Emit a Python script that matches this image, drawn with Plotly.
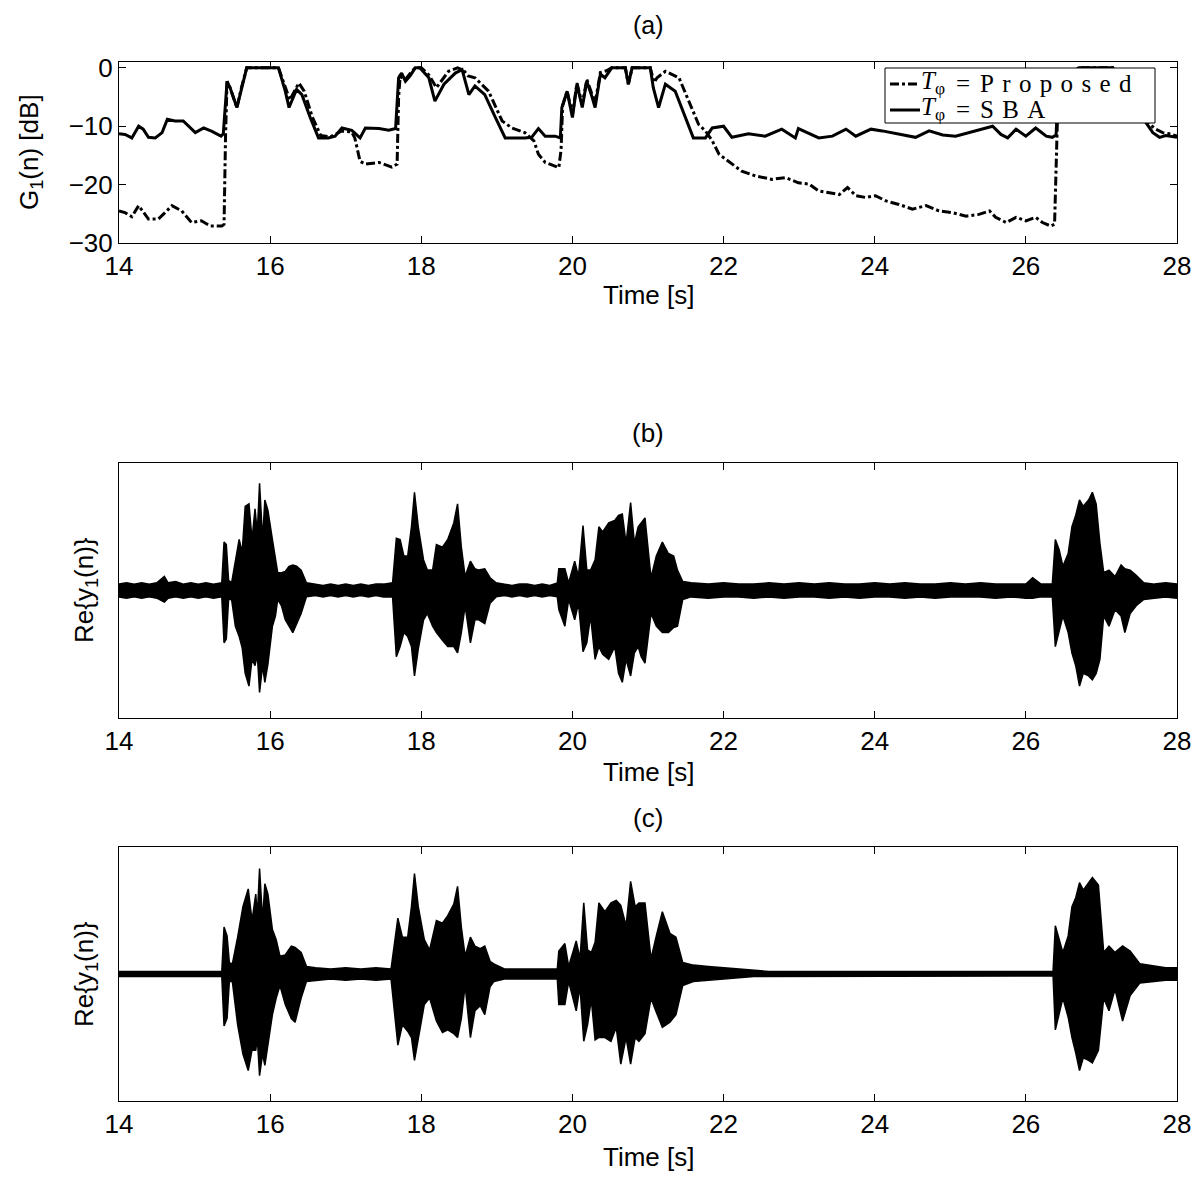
import plotly.graph_objects as go

# ---- panel (a): gain G_1(n) in dB ----
t_sba = [14.0, 14.08, 14.17, 14.26, 14.32, 14.39, 14.48, 14.57, 14.64, 14.74,
         14.85, 14.92, 15.01, 15.12, 15.23, 15.35, 15.38, 15.43, 15.47, 15.56,
         15.62, 15.69, 16.11, 16.20, 16.25, 16.35, 16.42, 16.53, 16.64, 16.77,
         16.86, 16.95, 17.08, 17.19, 17.26, 17.44, 17.57, 17.66, 17.70, 17.74,
         17.79, 17.85, 17.92, 17.98, 18.10, 18.18, 18.30, 18.45, 18.54, 18.63,
         18.71, 18.84, 18.98, 19.11, 19.37, 19.46, 19.55, 19.64, 19.77, 19.84,
         19.86, 19.93, 20.00, 20.06, 20.13, 20.19, 20.25, 20.30, 20.37, 20.43,
         20.52, 20.70, 20.74, 20.79, 21.03, 21.07, 21.14, 21.23, 21.36, 21.49,
         21.60, 21.76, 21.85, 22.00, 22.11, 22.33, 22.55, 22.77, 22.95, 22.99,
         23.26, 23.44, 23.62, 23.75, 23.95, 24.10, 24.32, 24.54, 24.72, 24.90,
         25.07, 25.25, 25.43, 25.56, 25.67, 25.76, 25.87, 26.00, 26.13, 26.27,
         26.35, 26.40, 26.43, 26.50, 26.60, 26.70, 27.15, 27.25, 27.40, 27.52,
         27.59, 27.68, 27.77, 27.85, 28.0]
g_sba = [-11.3, -11.4, -12.0, -10.0, -10.5, -11.9, -12.0, -11.1, -8.8, -9.1,
         -9.1, -10.0, -11.1, -10.3, -10.9, -11.7, -11.3, -2.3, -3.4, -6.8,
         -3.4, 0.0, 0.0, -4.0, -6.8, -3.7, -4.6, -8.5, -12.0, -12.0,
         -11.7, -10.3, -10.7, -12.0, -10.3, -10.4, -10.7, -10.4, -1.7, -0.9,
         -2.3, -1.4, 0.0, 0.0, -1.7, -5.7, -2.8, -0.9, -0.3, -4.6,
         -3.1, -4.6, -8.5, -12.0, -12.0, -11.9, -10.4, -11.7, -11.7, -12.0,
         -6.8, -4.0, -8.5, -2.8, -6.8, -2.3, -4.6, -6.8, -1.1, -1.7,
         0.0, 0.0, -2.8, 0.0, 0.0, -3.4, -6.8, -2.8, -4.0, -8.5,
         -12.0, -12.0, -10.3, -10.0, -11.9, -11.3, -11.7, -10.5, -12.0, -10.4,
         -12.0, -11.7, -10.5, -11.7, -10.5, -10.8, -11.4, -11.9, -10.8, -11.5,
         -11.7, -11.1, -10.5, -10.0, -11.4, -12.0, -10.5, -11.7, -10.3, -11.7,
         -11.9, -11.5, -3.0, -4.5, -1.0, 0.0, 0.0, -3.0, -5.0, -7.5,
         -9.4, -11.1, -11.9, -11.6, -11.9]

t_prop = [14.0, 14.08, 14.17, 14.26, 14.39, 14.52, 14.61, 14.70, 14.83, 14.96,
          15.09, 15.21, 15.36, 15.39, 15.41, 15.43, 15.47, 15.56, 15.62, 15.69,
          16.11, 16.20, 16.26, 16.38, 16.45, 16.56, 16.67, 16.80, 16.95, 17.08,
          17.12, 17.19, 17.26, 17.44, 17.61, 17.68, 17.70, 17.72, 17.79, 17.85,
          17.92, 18.00, 18.10, 18.20, 18.36, 18.48, 18.56, 18.62, 18.71, 18.89,
          19.07, 19.20, 19.37, 19.49, 19.55, 19.64, 19.77, 19.82, 19.85, 19.87,
          19.93, 20.00, 20.06, 20.13, 20.19, 20.25, 20.30, 20.37, 20.45, 20.52,
          20.70, 20.74, 20.79, 21.03, 21.08, 21.12, 21.23, 21.41, 21.54, 21.67,
          21.76, 21.85, 21.94, 22.07, 22.24, 22.42, 22.64, 22.82, 22.99, 23.13,
          23.26, 23.40, 23.53, 23.64, 23.75, 23.88, 24.01, 24.15, 24.32, 24.50,
          24.68, 24.85, 25.03, 25.21, 25.38, 25.52, 25.60, 25.74, 25.87, 26.00,
          26.13, 26.22, 26.33, 26.38, 26.41, 26.43, 26.50, 26.60, 26.70, 27.15,
          27.25, 27.40, 27.55, 27.64, 27.72, 27.81, 27.90, 28.0]
g_prop = [-24.5, -24.8, -25.5, -23.6, -25.9, -25.9, -24.8, -23.6, -24.5, -26.5,
          -26.2, -27.1, -27.1, -26.8, -11.5, -2.3, -3.4, -6.8, -3.4, 0.0,
          0.0, -3.5, -5.5, -2.6, -4.0, -8.5, -11.6, -11.8, -10.8, -11.0,
          -12.0, -16.0, -16.5, -16.2, -17.0, -16.5, -5.0, -1.5, -2.0, -1.0,
          0.0, 0.0, -1.2, -3.4, -0.6, 0.0, -0.4, -1.4, -1.7, -4.0,
          -9.1, -10.3, -11.1, -12.5, -14.8, -16.2, -16.8, -17.1, -14.0, -6.5,
          -4.0, -8.0, -2.6, -6.3, -2.0, -4.0, -6.0, -0.8, -0.5, 0.0,
          0.0, -2.8, 0.0, 0.0, -2.5, -1.7, -0.6, -1.7, -5.7, -9.7,
          -10.8, -12.5, -14.8, -16.0, -17.7, -18.5, -19.1, -18.8, -19.7, -19.9,
          -21.1, -21.4, -21.7, -20.5, -21.9, -22.2, -21.9, -22.8, -23.4, -24.2,
          -23.6, -24.5, -24.8, -25.4, -25.1, -24.5, -25.6, -26.5, -25.6, -26.2,
          -25.6, -26.5, -27.1, -26.8, -11.5, -3.0, -4.5, -1.0, 0.0, 0.0,
          -2.5, -4.5, -8.0, -9.7, -10.5, -11.1, -11.3, -11.7]

# ---- panel (b): Re{y_1(n)} envelope (upper / lower) ----
t_b = [14.0, 14.1, 14.2, 14.3, 14.4, 14.5, 14.6, 14.65, 14.75, 14.85,
       14.95, 15.05, 15.15, 15.25, 15.36, 15.39, 15.42, 15.45, 15.49, 15.54,
       15.59, 15.63, 15.67, 15.72, 15.76, 15.80, 15.83, 15.86, 15.90, 15.93,
       15.97, 16.03, 16.07, 16.10, 16.15, 16.20, 16.25, 16.30, 16.35, 16.41,
       16.48, 16.6, 16.7, 16.8, 16.9, 17.0, 17.1, 17.2, 17.3, 17.4,
       17.5, 17.62, 17.67, 17.72, 17.77, 17.82, 17.87, 17.91, 17.96, 18.03,
       18.08, 18.15, 18.20, 18.28, 18.35, 18.43, 18.48, 18.53, 18.58, 18.65,
       18.71, 18.76, 18.84, 18.91, 18.99, 19.1, 19.2, 19.3, 19.4, 19.5,
       19.6, 19.7, 19.80, 19.82, 19.90, 19.95, 20.03, 20.08, 20.14, 20.19,
       20.24, 20.30, 20.35, 20.40, 20.48, 20.56, 20.61, 20.66, 20.71, 20.77,
       20.82, 20.87, 20.91, 20.96, 21.04, 21.11, 21.19, 21.27, 21.34, 21.39,
       21.46, 21.57, 21.8, 22.0, 22.2, 22.4, 22.6, 22.8, 23.0, 23.2,
       23.4, 23.6, 23.8, 24.0, 24.2, 24.4, 24.6, 24.8, 25.0, 25.2,
       25.4, 25.6, 25.8, 26.0, 26.09, 26.2, 26.35, 26.39, 26.44, 26.49,
       26.56, 26.61, 26.66, 26.71, 26.76, 26.83, 26.88, 26.93, 26.98, 27.03,
       27.10, 27.18, 27.26, 27.31, 27.38, 27.46, 27.56, 27.70, 27.85, 28.0]
up_b = [0.05, 0.06, 0.05, 0.06, 0.05, 0.06, 0.11, 0.06, 0.07, 0.05,
        0.06, 0.05, 0.06, 0.05, 0.06, 0.38, 0.36, 0.08, 0.06, 0.24,
        0.40, 0.30, 0.66, 0.68, 0.40, 0.64, 0.45, 0.84, 0.40, 0.71,
        0.63, 0.40, 0.27, 0.14, 0.14, 0.15, 0.19, 0.20, 0.19, 0.16,
        0.06, 0.05, 0.04, 0.05, 0.04, 0.05, 0.04, 0.05, 0.04, 0.05,
        0.05, 0.06, 0.41, 0.40, 0.27, 0.27, 0.50, 0.77, 0.50, 0.24,
        0.16, 0.16, 0.36, 0.34, 0.40, 0.53, 0.68, 0.34, 0.11, 0.23,
        0.17, 0.16, 0.17, 0.10, 0.06, 0.05, 0.04, 0.05, 0.05, 0.04,
        0.05, 0.04, 0.06, 0.17, 0.17, 0.06, 0.23, 0.11, 0.51, 0.16,
        0.16, 0.24, 0.50, 0.46, 0.53, 0.55, 0.59, 0.60, 0.37, 0.69,
        0.37, 0.50, 0.53, 0.57, 0.10, 0.27, 0.38, 0.29, 0.27, 0.16,
        0.07, 0.06, 0.05, 0.06, 0.05, 0.05, 0.06, 0.05, 0.06, 0.05,
        0.06, 0.05, 0.05, 0.06, 0.05, 0.06, 0.05, 0.05, 0.06, 0.05,
        0.06, 0.05, 0.05, 0.05, 0.10, 0.05, 0.05, 0.40, 0.32, 0.19,
        0.29, 0.50, 0.59, 0.71, 0.66, 0.71, 0.77, 0.68, 0.37, 0.14,
        0.16, 0.11, 0.20, 0.17, 0.16, 0.12, 0.06, 0.05, 0.06, 0.05]
lo_b = [-0.05, -0.06, -0.05, -0.06, -0.05, -0.06, -0.09, -0.06, -0.05, -0.06,
        -0.05, -0.06, -0.05, -0.06, -0.05, -0.41, -0.38, -0.07, -0.07, -0.28,
        -0.36, -0.45, -0.65, -0.75, -0.54, -0.59, -0.50, -0.80, -0.59, -0.72,
        -0.58, -0.28, -0.20, -0.07, -0.12, -0.23, -0.28, -0.33, -0.26, -0.18,
        -0.05, -0.04, -0.05, -0.04, -0.05, -0.04, -0.05, -0.04, -0.05, -0.04,
        -0.05, -0.05, -0.52, -0.44, -0.33, -0.36, -0.44, -0.67, -0.46, -0.23,
        -0.18, -0.28, -0.33, -0.39, -0.44, -0.44, -0.49, -0.33, -0.12, -0.41,
        -0.23, -0.23, -0.26, -0.10, -0.05, -0.04, -0.05, -0.04, -0.05, -0.04,
        -0.05, -0.04, -0.05, -0.15, -0.28, -0.07, -0.23, -0.10, -0.48, -0.41,
        -0.20, -0.54, -0.44, -0.50, -0.54, -0.44, -0.65, -0.72, -0.54, -0.67,
        -0.49, -0.44, -0.52, -0.57, -0.18, -0.28, -0.33, -0.33, -0.29, -0.28,
        -0.07, -0.05, -0.06, -0.05, -0.05, -0.06, -0.05, -0.06, -0.05, -0.05,
        -0.06, -0.05, -0.06, -0.05, -0.05, -0.06, -0.05, -0.06, -0.05, -0.05,
        -0.05, -0.06, -0.05, -0.06, -0.06, -0.05, -0.05, -0.44, -0.33, -0.20,
        -0.33, -0.49, -0.59, -0.75, -0.65, -0.67, -0.70, -0.65, -0.54, -0.20,
        -0.28, -0.15, -0.20, -0.33, -0.18, -0.12, -0.07, -0.06, -0.05, -0.06]

# ---- panel (c): Re{y_1(n)} envelope (upper / lower) ----
t_c = [14.0, 14.2, 14.4, 14.6, 14.8, 15.0, 15.2, 15.36, 15.39, 15.43,
       15.46, 15.50, 15.57, 15.64, 15.71, 15.76, 15.81, 15.83, 15.86, 15.90,
       15.93, 15.97, 16.03, 16.08, 16.13, 16.20, 16.28, 16.33, 16.41, 16.48,
       16.6, 16.8, 17.0, 17.2, 17.4, 17.6, 17.69, 17.75, 17.82, 17.87,
       17.91, 17.96, 18.04, 18.11, 18.20, 18.28, 18.35, 18.43, 18.48, 18.53,
       18.58, 18.65, 18.71, 18.78, 18.84, 18.91, 18.96, 19.1, 19.3, 19.5,
       19.7, 19.80, 19.82, 19.90, 19.95, 20.05, 20.10, 20.15, 20.20, 20.25,
       20.30, 20.35, 20.43, 20.51, 20.58, 20.64, 20.71, 20.77, 20.83, 20.88,
       20.96, 21.04, 21.11, 21.19, 21.29, 21.37, 21.46, 21.6, 21.8, 22.0,
       22.2, 22.4, 22.6, 23.0, 23.4, 23.8, 24.2, 24.6, 25.0, 25.4,
       25.8, 26.2, 26.36, 26.39, 26.49, 26.56, 26.61, 26.66, 26.71, 26.76,
       26.83, 26.88, 26.96, 27.03, 27.10, 27.18, 27.28, 27.38, 27.51, 27.7,
       27.85, 28.0]
up_c = [0.02, 0.02, 0.02, 0.02, 0.02, 0.02, 0.02, 0.02, 0.37, 0.30,
        0.09, 0.08, 0.29, 0.53, 0.67, 0.42, 0.63, 0.45, 0.83, 0.42,
        0.71, 0.63, 0.35, 0.27, 0.14, 0.15, 0.22, 0.21, 0.17, 0.06,
        0.05, 0.04, 0.05, 0.04, 0.05, 0.04, 0.44, 0.29, 0.29, 0.53,
        0.79, 0.53, 0.27, 0.19, 0.42, 0.40, 0.46, 0.55, 0.69, 0.37,
        0.14, 0.29, 0.22, 0.20, 0.22, 0.10, 0.08, 0.04, 0.04, 0.04,
        0.04, 0.04, 0.18, 0.24, 0.06, 0.26, 0.12, 0.56, 0.19, 0.17,
        0.25, 0.56, 0.49, 0.56, 0.58, 0.54, 0.38, 0.73, 0.53, 0.56,
        0.56, 0.12, 0.30, 0.49, 0.32, 0.29, 0.09, 0.07, 0.06, 0.05,
        0.04, 0.03, 0.02, 0.02, 0.02, 0.02, 0.02, 0.02, 0.02, 0.02,
        0.02, 0.02, 0.02, 0.38, 0.17, 0.30, 0.53, 0.60, 0.72, 0.66,
        0.72, 0.76, 0.70, 0.17, 0.22, 0.17, 0.22, 0.18, 0.08, 0.06,
        0.05, 0.05]
lo_c = [-0.02, -0.02, -0.02, -0.02, -0.02, -0.02, -0.02, -0.02, -0.41, -0.35,
        -0.06, -0.06, -0.40, -0.63, -0.76, -0.60, -0.60, -0.50, -0.80, -0.63,
        -0.72, -0.58, -0.32, -0.19, -0.09, -0.24, -0.35, -0.38, -0.19, -0.06,
        -0.05, -0.04, -0.05, -0.04, -0.05, -0.04, -0.56, -0.40, -0.45, -0.50,
        -0.68, -0.50, -0.24, -0.19, -0.37, -0.46, -0.44, -0.47, -0.50, -0.35,
        -0.09, -0.50, -0.29, -0.25, -0.32, -0.10, -0.06, -0.04, -0.04, -0.04,
        -0.04, -0.04, -0.24, -0.24, -0.06, -0.29, -0.10, -0.53, -0.40, -0.20,
        -0.52, -0.50, -0.50, -0.53, -0.42, -0.71, -0.50, -0.71, -0.50, -0.53,
        -0.47, -0.19, -0.30, -0.42, -0.38, -0.32, -0.09, -0.06, -0.05, -0.04,
        -0.03, -0.02, -0.015, -0.015, -0.015, -0.015, -0.015, -0.015, -0.015, -0.015,
        -0.015, -0.015, -0.015, -0.44, -0.19, -0.34, -0.50, -0.62, -0.76, -0.66,
        -0.68, -0.70, -0.60, -0.19, -0.29, -0.12, -0.37, -0.17, -0.07, -0.06,
        -0.05, -0.05]

x_ticks = [14, 16, 18, 20, 22, 24, 26, 28]
g_ticks = [0, -10, -20, -30]

# the page has an 8px body margin, so the figure is sized to fit inside it
OFF = 8
W, H = 1200 - OFF, 1181 - OFF
font_sans = "Liberation Sans, Arial, sans-serif"
font_serif = "Liberation Serif, DejaVu Serif, serif"


def px(x):
    return (x - OFF) / W


def py(y):
    return 1 - (y - OFF) / H


fig = go.Figure()

fig.add_trace(go.Scatter(x=t_prop, y=g_prop, mode="lines", showlegend=False,
                         line=dict(color="black", width=3, dash="dashdot"),
                         xaxis="x", yaxis="y"))
fig.add_trace(go.Scatter(x=t_sba, y=g_sba, mode="lines", showlegend=False,
                         line=dict(color="black", width=3),
                         xaxis="x", yaxis="y"))


def envelope(t, up, lo, xa, ya):
    return go.Scatter(x=t + t[::-1], y=up + lo[::-1], mode="lines",
                      fill="toself", fillcolor="black",
                      line=dict(color="black", width=1.5),
                      showlegend=False, xaxis=xa, yaxis=ya)


fig.add_trace(envelope(t_b, up_b, lo_b, "x2", "y2"))
fig.add_trace(envelope(t_c, up_c, lo_c, "x3", "y3"))

xdom = [px(119), px(1177)]
axis_common = dict(showline=True, linecolor="black", linewidth=1, mirror="ticks",
                   showgrid=False, zeroline=False, automargin=False,
                   tickcolor="black",
                   tickfont=dict(family=font_sans, size=26, color="black"))
xa = dict(range=[14, 28], tickvals=x_ticks, ticks="inside", ticklen=7, **axis_common)
ya_wave = dict(range=[-1, 1], tickvals=[], showticklabels=False, ticks="", **axis_common)

fig.update_layout(
    width=W, height=H,
    margin=dict(l=0, r=0, t=0, b=0),
    paper_bgcolor="white", plot_bgcolor="white",
    showlegend=False,
    xaxis=dict(domain=xdom, anchor="y", **xa),
    yaxis=dict(domain=[py(243), py(62)], range=[-30, 1], tickvals=g_ticks,
               ticks="inside", ticklen=7, anchor="x", **axis_common),
    xaxis2=dict(domain=xdom, anchor="y2", **xa),
    yaxis2=dict(domain=[py(718), py(463)], anchor="x2", **ya_wave),
    xaxis3=dict(domain=xdom, anchor="y3", **xa),
    yaxis3=dict(domain=[py(1101), py(847)], anchor="x3", **ya_wave),
)

xc = px((119 + 1177) / 2)
notes = [
    ("(b)", xc, 433, 0), ("(c)", xc, 818, 0),
    ("Time [s]", xc, 295, 0), ("Time [s]", xc, 772, 0), ("Time [s]", xc, 1157, 0),
    ("G<sub>1</sub>(n) [dB]", px(30), 152, -90),
    ("Re{y<sub>1</sub>(n)}", px(85), 590, -90),
    ("Re{y<sub>1</sub>(n)}", px(85), 974, -90),
]
for text, x, ypix, ang in notes:
    fig.add_annotation(text=text, x=x, y=py(ypix), xref="paper", yref="paper",
                       xanchor="center", yanchor="middle", showarrow=False,
                       textangle=ang, font=dict(family=font_sans, size=26, color="black"))
# top title sits close to the page edge, so anchor it at its top
fig.add_annotation(text="(a)", x=xc, y=py(9), xref="paper", yref="paper",
                   xanchor="center", yanchor="top", showarrow=False,
                   font=dict(family=font_sans, size=25, color="black"))

# legend box drawn over the curves, as in the original figure
fig.add_shape(type="rect", xref="paper", yref="paper", layer="above",
              x0=px(885), x1=px(1155), y0=py(123), y1=py(68),
              fillcolor="white", line=dict(color="black", width=1))
sp = "\u2004"
legend_rows = [("dashdot", 83, sp.join("Proposed")),
               ("solid", 109, sp.join("SBA"))]
for dash, ypix, label in legend_rows:
    fig.add_shape(type="line", xref="paper", yref="paper", layer="above",
                  x0=px(890), x1=px(920), y0=py(ypix + 1), y1=py(ypix + 1),
                  line=dict(color="black", width=3, dash=dash))
    fig.add_annotation(text="<i>T</i><sub>φ</sub>", x=px(919), y=py(ypix),
                       xref="paper", yref="paper", xanchor="left", yanchor="middle",
                       showarrow=False, font=dict(family=font_serif, size=25, color="black"))
    fig.add_annotation(text="=", x=px(963), y=py(ypix + 1), xref="paper", yref="paper",
                       xanchor="center", yanchor="middle", showarrow=False,
                       font=dict(family=font_serif, size=25, color="black"))
    fig.add_annotation(text=label, x=px(978), y=py(ypix + 1), xref="paper", yref="paper",
                       xanchor="left", yanchor="middle", showarrow=False,
                       font=dict(family=font_serif, size=25, color="black"))

fig.write_html("out.html")
